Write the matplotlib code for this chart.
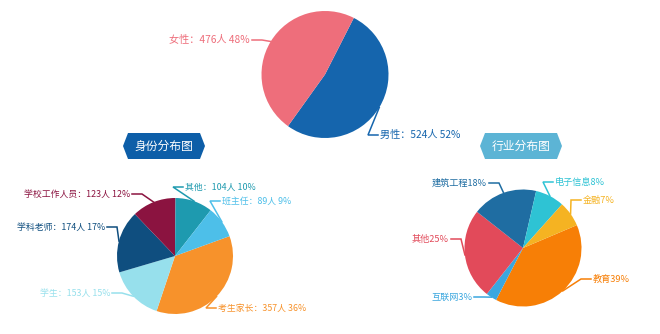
import numpy as np
import matplotlib
matplotlib.use("Agg")
import matplotlib.pyplot as plt
from matplotlib.patches import Polygon

plt.rcParams['font.family'] = ['Noto Sans CJK SC', 'DejaVu Sans']

W, H = 660, 334

# gender split
gender_names = ['男性', '女性']
gender_counts = [524, 476]
gender_colors = ['#1565ad', '#ee6e7b']

# respondent roles
role_names = ['考生家长', '学生', '学科老师', '学校工作人员', '其他', '班主任']
role_counts = [357, 153, 174, 123, 104, 89]
role_colors = ['#f7922b', '#97e0ec', '#0f4e7f', '#8b1340', '#1e9aaf', '#4dbfe9']

# industries
industry_names = ['教育', '互联网', '其他', '建筑工程', '电子信息', '金融']
industry_pcts = [39, 3, 25, 18, 8, 7]
industry_colors = ['#f77f06', '#3aa7df', '#e24a5a', '#1f6da2', '#2ec3d4', '#f5b322']


def fmt_people(names, counts):
    total = sum(counts)
    return ['%s：%d人 %d%%' % (n, c, round(c * 100 / total)) for n, c in zip(names, counts)]


def fmt_pct(names, pcts):
    return ['%s%d%%' % (n, p) for n, p in zip(names, pcts)]


def Y(y):
    # layout is written in screen pixels (y down)
    return H - y


def draw_pie(ax, values, colors, labels, cx, cy, r, offset, label_pos, fontsize):
    """Pie drawn clockwise, first slice starting `offset` degrees past 12 o'clock."""
    ax.pie(values, colors=colors, center=(cx, Y(cy)), radius=r,
           startangle=90 - offset, counterclock=False,
           wedgeprops=dict(linewidth=0))
    total = float(sum(values))
    start = offset
    for v, col, lab, (tx, ty, side) in zip(values, colors, labels, label_pos):
        span = 360.0 * v / total
        mid = np.radians(start + span / 2)
        start += span
        ex, ey = cx + r * np.sin(mid), cy - r * np.cos(mid)
        if side == 'left':
            end_x = tx + 2
            elbow_x = end_x + 10
            ha = 'right'
        else:
            end_x = tx - 2
            elbow_x = end_x - 10
            ha = 'left'
        ax.plot([ex, elbow_x, end_x], [Y(ey), Y(ty), Y(ty)], color=col, lw=1.1,
                solid_joinstyle='miter')
        ax.text(tx, Y(ty), lab, color=col, fontsize=fontsize, ha=ha, va='center')


def draw_badge(ax, x0, x1, y0, y1, color, text):
    tip = 5
    ym = (y0 + y1) / 2
    pts = [(x0, ym), (x0 + tip, y0), (x1 - tip, y0), (x1, ym), (x1 - tip, y1), (x0 + tip, y1)]
    ax.add_patch(Polygon([(px, Y(py)) for px, py in pts], closed=True,
                         facecolor=color, edgecolor='none'))
    ax.text((x0 + x1) / 2, Y(ym), text, color='white', fontsize=8.5,
            ha='center', va='center')


fig = plt.figure(figsize=(W / 100, H / 100), dpi=100)
ax = fig.add_axes([0, 0, 1, 1])

# top: gender
draw_pie(ax, gender_counts, gender_colors, fmt_people(gender_names, gender_counts),
         325, 74.5, 63.5, 27,
         [(380, 135, 'right'), (250, 40, 'left')], 7.3)

# bottom left: roles
draw_pie(ax, role_counts, role_colors, fmt_people(role_names, role_counts),
         175, 256, 58, 70,
         [(218, 308, 'right'), (110, 293, 'left'), (105, 227, 'left'),
          (130, 194, 'left'), (185, 187, 'right'), (222, 201, 'right')], 6.4)
draw_badge(ax, 123, 205, 133, 159, '#0d5ea8', '身份分布图')

# bottom right: industries
draw_pie(ax, industry_pcts, industry_colors, fmt_pct(industry_names, industry_pcts),
         523, 248, 58.5, 67,
         [(593, 279, 'right'), (472, 297, 'left'), (449, 239, 'left'),
          (487, 183, 'left'), (555, 182, 'right'), (583, 200, 'right')], 6.6)
draw_badge(ax, 480, 562, 133, 159, '#5cb4d5', '行业分布图')

ax.set_xlim(0, W)
ax.set_ylim(0, H)
ax.axis('off')

fig.savefig('out.png', dpi=100, facecolor='white')
